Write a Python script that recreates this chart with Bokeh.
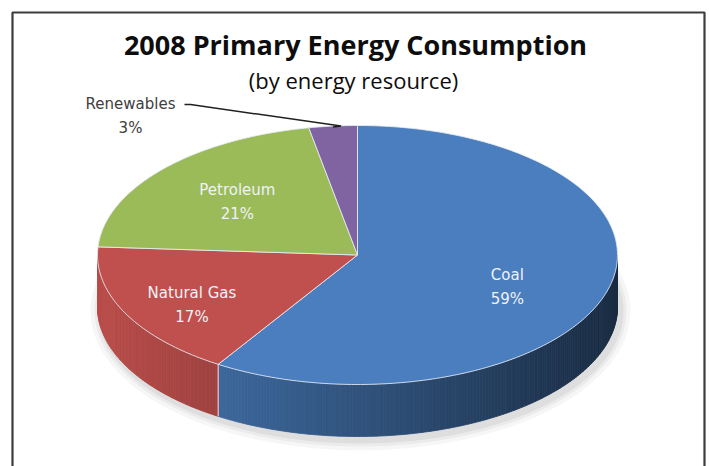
import math
from bokeh.plotting import figure
from bokeh.models import Range1d
from bokeh.core.properties import value
from bokeh.embed import file_html
from bokeh.resources import INLINE

# ---- data ----
categories = ["Coal", "Natural Gas", "Petroleum", "Renewables"]
shares = [59, 17, 21, 3]
top_colors = ["#4a7ebe", "#c0504d", "#9bbb59", "#8064a2"]
title = "2008 Primary Energy Consumption"
subtitle = "(by energy resource)"

# ---- geometry (pixel-like canvas) ----
W, H = 709, 466
cx, cy, a, b, depth = 357, 254.5, 260, 129.5, 52

p = figure(width=W, height=H, output_backend="svg", toolbar_location=None,
           x_range=Range1d(0, W), y_range=Range1d(H, 0), min_border=0)
p.axis.visible = False
p.grid.visible = False
p.outline_line_color = None
p.background_fill_color = "white"
p.border_fill_color = "white"

TFONT = "Open Sans"
LFONT = "DejaVu Sans"

def hex2rgb(h):
    h = h.lstrip("#")
    return tuple(int(h[i:i + 2], 16) for i in (0, 2, 4))

def shade(h, f):
    r, g, bb = hex2rgb(h)
    return "#%02x%02x%02x" % (int(min(255, r * f)), int(min(255, g * f)), int(min(255, bb * f)))

def pt(theta_deg, dy=0.0):
    t = math.radians(theta_deg)
    return cx + a * math.sin(t), cy - b * math.cos(t) + dy

total = sum(shares)
starts, ends = [], []
acc = 0.0
for s in shares:
    starts.append(acc / total * 360.0)
    acc += s
    ends.append(acc / total * 360.0)

# soft shadow under the pie
for k, al in [(10, 0.035), (6, 0.045), (3, 0.055)]:
    p.ellipse(x=cx + 3, y=cy + depth + 4, width=2 * a + k * 2, height=2 * b + k * 2,
              fill_color="#000000", fill_alpha=al, line_color=None)

# ---- side walls (front half: 90..270 deg) ----
side_xs, side_ys, side_cols = [], [], []
step = 0.75
for i in range(len(shares)):
    lo = max(starts[i], 90.0)
    hi = min(ends[i], 270.0)
    if hi <= lo:
        continue
    n = max(1, int(math.ceil((hi - lo) / step)))
    for j in range(n):
        t1 = lo + (hi - lo) * j / n
        t2 = lo + (hi - lo) * (j + 1) / n
        x1, y1 = pt(t1)
        x2, y2 = pt(t2)
        xm = (x1 + x2) / 2
        tt = (xm - (cx - a)) / (2 * a)
        f = 0.97 - 0.62 * tt
        side_xs.append([x1, x2, x2, x1])
        side_ys.append([y1, y2, y2 + depth, y1 + depth])
        side_cols.append(shade(top_colors[i], f))
p.patches(xs=side_xs, ys=side_ys, fill_color=side_cols, line_color=side_cols, line_width=0.8)

# vertical edges on the side where slices meet
for i in range(len(shares)):
    th = ends[i]
    if 90 < th < 270:
        x1, y1 = pt(th)
        p.line([x1, x1], [y1, y1 + depth], line_color="#f2c6c4", line_width=1.2)

# ---- top surfaces ----
top_xs, top_ys = [], []
for i in range(len(shares)):
    n = max(3, int((ends[i] - starts[i]) / 1.0))
    xs, ys = [cx], [cy]
    for j in range(n + 1):
        x, y = pt(starts[i] + (ends[i] - starts[i]) * j / n)
        xs.append(x)
        ys.append(y)
    top_xs.append(xs)
    top_ys.append(ys)
p.patches(xs=top_xs, ys=top_ys, fill_color=top_colors, line_color="#e6ecf4",
          line_width=1.0, line_alpha=0.85)

# ---- labels ----
label_frac = [0.60, 0.68, 0.58, None]
label_dx = [0, -8, -7, 0]
label_dy = [10, 10, -3, 0]
for i, name in enumerate(categories):
    mid = (starts[i] + ends[i]) / 2
    pct = "%d%%" % shares[i]
    if label_frac[i] is None:
        # outside label with leader line
        ex, ey = pt(mid)
        lx, ly = 130, 103
        p.text(x=[lx], y=[ly], text=[name], text_align="center", text_baseline="middle",
               text_font=value(LFONT), text_font_size="15px", text_color="#404040")
        p.text(x=[lx], y=[ly + 24], text=[pct], text_align="center", text_baseline="middle",
               text_font=value(LFONT), text_font_size="15px", text_color="#404040")
        p.line([lx + 54, lx + 60, ex + 8, ex], [ly + 1, ly + 1, ey, ey + 1],
               line_color="#202020", line_width=1.5)
        continue
    t = math.radians(mid)
    x = cx + label_frac[i] * a * math.sin(t) + label_dx[i]
    y = cy - label_frac[i] * b * math.cos(t) + label_dy[i]
    p.text(x=[x], y=[y - 12], text=[name], text_align="center", text_baseline="middle",
           text_font=value(LFONT), text_font_size="15px", text_color="#eef2f8")
    p.text(x=[x], y=[y + 12], text=[pct], text_align="center", text_baseline="middle",
           text_font=value(LFONT), text_font_size="15px", text_color="#eef2f8")

# ---- titles ----
p.text(x=[355], y=[44], text=[title], text_align="center", text_baseline="middle",
       text_font=value(TFONT), text_font_size="27px", text_font_style="bold", text_color="#0d0d0d")
p.text(x=[353], y=[79], text=[subtitle], text_align="center", text_baseline="middle",
       text_font=value(TFONT), text_font_size="22px", text_color="#0d0d0d")

# ---- chart frame ----
p.line([12, 12, 704, 704], [H + 5, 12, 12, H + 5], line_color="#3c3c3c", line_width=2.2)

open("out.html", "w").write(file_html(p, INLINE))
